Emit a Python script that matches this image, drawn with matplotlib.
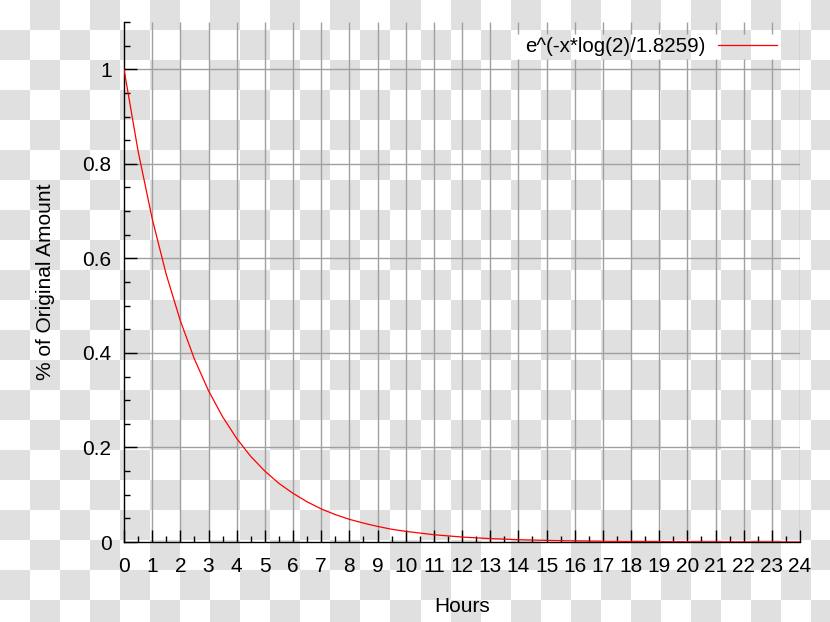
import numpy as np
import matplotlib
matplotlib.use("Agg")
import matplotlib.pyplot as plt
from matplotlib.ticker import MultipleLocator

plt.rcParams['font.family'] = ['Liberation Sans', 'DejaVu Sans']

# ---- data ----
hours = [0, 0.5, 1, 1.5, 2, 2.5, 3, 3.5, 4, 4.5, 5, 5.5, 6, 6.5, 7, 7.5, 8,
         8.5, 9, 9.5, 10, 11, 12, 13, 14, 15, 16, 17, 18, 19, 20, 21, 22, 23, 24]
amount = [1.0, 0.827, 0.684, 0.566, 0.468, 0.387, 0.320, 0.265, 0.219, 0.181,
          0.150, 0.124, 0.103, 0.085, 0.070, 0.058, 0.048, 0.040, 0.033, 0.027,
          0.0225, 0.0154, 0.0105, 0.0072, 0.0049, 0.0034, 0.0023, 0.0016,
          0.0011, 0.0007, 0.0005, 0.0003, 0.0002, 0.0002, 0.0001]
series_label = "e^(-x*log(2)/1.8259)"
x_ticks = list(range(0, 25))
y_ticks = [0, 0.2, 0.4, 0.6, 0.8, 1]
y_tick_labels = ["0", "0.2", "0.4", "0.6", "0.8", "1"]

W, H = 830, 622
fig = plt.figure(figsize=(W / 100, H / 100), dpi=100)

# checkerboard (transparency) background on its own axes
cell = 30
yy, xx = np.mgrid[0:H, 0:W]
chk = ((xx // cell + yy // cell) % 2).astype(float)
bg = np.where(chk[..., None] == 1, 224 / 255, 1.0) * np.ones((H, W, 3))
bax = fig.add_axes([0, 0, 1, 1], zorder=-5)
bax.imshow(bg, interpolation='nearest', aspect='auto', extent=(0, W, H, 0))
bax.set_axis_off()

ax = fig.add_axes([124 / W, 1 - 542 / H, (800 - 124) / W, (542 - 22) / H], zorder=1)
ax.set_facecolor('none')
ax.set_xlim(0, 24)
ax.set_ylim(0, 1.1)

grid_c = '#a0a0a0'
for yv in y_ticks[1:]:
    ax.axhline(yv, color=grid_c, lw=1.0, zorder=1)
# vertical grid lines, interrupted behind the legend
leg_lo, leg_hi = 1.021, 1.074
for xv in x_ticks[1:]:
    if 14 <= xv <= 23:
        ax.vlines(xv, 0, leg_lo, color=grid_c, lw=1.0, zorder=1)
        ax.vlines(xv, leg_hi, 1.1, color=grid_c, lw=1.0, zorder=1)
    else:
        ax.vlines(xv, 0, 1.1, color=grid_c, lw=1.0, zorder=1)

ax.plot(hours, amount, color='#ff0000', lw=0.9, label=series_label, zorder=3)

for s in ['top', 'right']:
    ax.spines[s].set_visible(False)
for s in ['left', 'bottom']:
    ax.spines[s].set_color('black')
    ax.spines[s].set_linewidth(1.0)

ax.set_xticks(x_ticks)
ax.set_xticklabels([str(v) for v in x_ticks])
ax.set_yticks(y_ticks)
ax.set_yticklabels(y_tick_labels)
ax.xaxis.set_minor_locator(MultipleLocator(0.5))
ax.yaxis.set_minor_locator(MultipleLocator(0.05))
ax.tick_params(which='major', direction='in', length=9, width=1.0, color='black',
               labelsize=15, top=False, right=False)
ax.tick_params(which='minor', direction='in', length=4.5, width=1.0, color='black',
               top=False, right=False)
ax.tick_params(axis='x', which='major', pad=11)
ax.tick_params(axis='y', which='major', pad=9)

ax.set_xlabel("Hours", fontsize=15, labelpad=15)
ax.set_ylabel("% of Original Amount", fontsize=15, labelpad=20)

leg = ax.legend(loc='center right', frameon=False, markerfirst=False,
                fontsize=14.8, handlelength=2.85, handletextpad=0.6,
                bbox_to_anchor=(0.978, 0.952), borderaxespad=0.0)

fig.savefig("out.png", dpi=100)
